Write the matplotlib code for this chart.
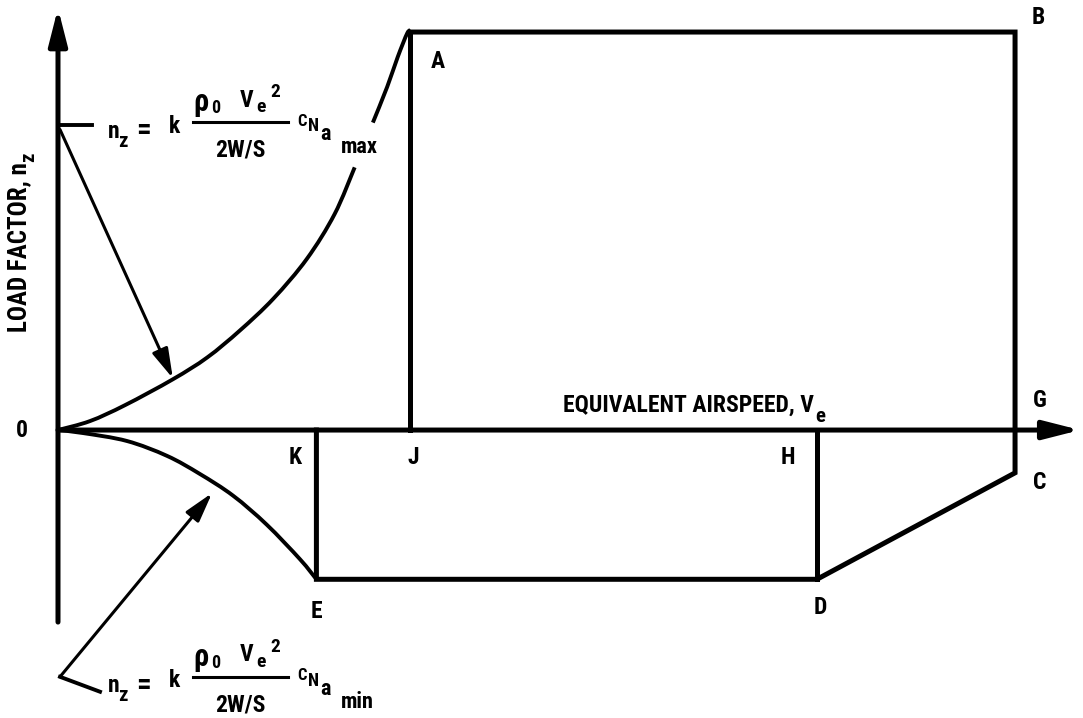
import numpy as np
import matplotlib.pyplot as plt
from matplotlib import font_manager
from matplotlib.path import Path
from matplotlib.patches import PathPatch

# bold narrow font, close to the lettering of the original drawing
prefs = ['RobotoCondensed-Bold', 'LiberationSansNarrow-Bold', 'OpenSans-CondBold',
         'NotoSans-CondensedBold', 'DejaVuSansCondensed-Bold', 'DejaVuSans-Bold']
found = {}
for f in font_manager.fontManager.ttflist:
    found[f.fname.split('/')[-1].rsplit('.', 1)[0]] = f.fname
FONT = next((found[p] for p in prefs if p in found), None)

# envelope corners (airspeed in arbitrary units, load factor n_z)
V_K, V_A, V_D, V_C = 27.0, 36.8, 79.3, 100.0
n_max, n_min, n_C = 4.0, -1.5, -0.43

# stall curves (upper one is broken by the formula text)
V_up1 = [0, 3.34, 7.0, 12.0, 15.6, 19.0, 22.5, 26.0, 28.9, 31.0]
n_up1 = [0, 0.09, 0.25, 0.51, 0.73, 1.0, 1.32, 1.72, 2.17, 2.64]
V_up2 = [32.9, 34.4, 35.5, 36.5, V_A]
n_up2 = [3.09, 3.45, 3.75, 3.99, n_max]
V_low = [0, 2.6, 7.2, 11.4, 14.8, 18.3, 21.8, 25.3, V_K]
n_low = [0, -0.03, -0.11, -0.26, -0.44, -0.66, -0.95, -1.30, n_min]

fig = plt.figure(figsize=(10.83, 7.18), dpi=100)
ax = fig.add_axes([0, 0, 1, 1])
ax.set_xlim(-6.06, 107.1)
ax.set_ylim(-2.894, 4.322)
ax.axis('off')

K = 'black'
LW = 3.6


def fp(size):
    return font_manager.FontProperties(fname=FONT, size=size)


def smooth(xs, ys, lw):
    # Catmull-Rom through the read points, drawn as cubic Bezier pieces
    p = np.column_stack([xs, ys])
    verts = [p[0]]
    codes = [Path.MOVETO]
    for i in range(len(p) - 1):
        p0 = p[max(i - 1, 0)]
        p3 = p[min(i + 2, len(p) - 1)]
        verts += [p[i] + (p[i + 1] - p0) / 6, p[i + 1] - (p3 - p[i]) / 6, p[i + 1]]
        codes += [Path.CURVE4] * 3
    ax.add_patch(PathPatch(Path(verts, codes), fill=False, lw=lw, color=K))


# axes with arrows
axis_arrow = dict(arrowstyle='-|>,head_length=1.1,head_width=0.28', lw=LW, color=K,
                  shrinkA=0, shrinkB=0, mutation_scale=20)
ax.annotate('', xy=(0, 4.24), xytext=(0, -1.93), arrowprops=axis_arrow)
ax.annotate('', xy=(106.8, 0), xytext=(0, 0), arrowprops=axis_arrow)

# envelope
ax.plot([V_A, V_C, V_C, V_D, V_K, V_K], [n_max, n_max, n_C, n_min, n_min, 0],
        color=K, lw=LW, solid_joinstyle='miter')
ax.plot([V_A, V_A], [n_max, 0], color=K, lw=LW)
ax.plot([V_D, V_D], [n_min, 0], color=K, lw=LW)

# stall curves
smooth(V_up1, n_up1, 2.8)
smooth(V_up2, n_up2, 2.8)
smooth(V_low, n_low, 2.8)

# point labels
FS = 17
labels = {'0': (-3.8, 0), 'A': (39.7, 3.70), 'B': (102.4, 4.15), 'G': (102.6, 0.30),
          'C': (102.6, -0.53), 'D': (79.7, -1.78), 'E': (27.0, -1.82),
          'K': (24.8, -0.28), 'J': (37.1, -0.28), 'H': (76.3, -0.28)}
for s, (x, y) in labels.items():
    ax.text(x, y, s, fontproperties=fp(FS), ha='center', va='center')

t = ax.text(52.8, 0.18, 'EQUIVALENT AIRSPEED, V', fontproperties=fp(FS), ha='left', va='baseline')
ax.annotate('e', xy=(1, 0), xycoords=t, xytext=(1, 1), textcoords='offset pixels',
            fontproperties=fp(FS - 2), ha='left', va='center')
t = ax.text(-4.08, 1.84, 'LOAD FACTOR, n', fontproperties=fp(FS + 1), rotation=90,
            ha='center', va='center')
ax.annotate('z', xy=(0.5, 1), xycoords=t, xytext=(10, 0), textcoords='offset pixels',
            fontproperties=fp(FS - 2), rotation=90, ha='center', va='bottom')

# leader lines and arrows to the curves
arrow = dict(arrowstyle='-|>,head_length=1.0,head_width=0.28', lw=2.2, color=K,
             shrinkA=0, shrinkB=0, mutation_scale=18)
ax.plot([0.21, 3.55], [3.07, 3.07], color=K, lw=2.8)
ax.annotate('', xy=(12.0, 0.52), xytext=(0.21, 3.02), arrowprops=arrow)
ax.plot([4.39, 0.21], [-2.63, -2.48], color=K, lw=2.8)
ax.annotate('', xy=(16.1, -0.633), xytext=(0.21, -2.48), arrowprops=arrow)


def formula(x0, y0, sub):
    # x0, y0: left edge of "n" at the height of the fraction bar (offsets in pixels)
    parts = [('n', 0, -9, 17), ('z', 10, -19, 15), ('=', 28, -9, 21), ('k', 61, -4, 17),
             ('ρ', 85, 20, 22), ('0', 103, 14, 13), ('V', 132, 22, 17), ('e', 148, 15, 14),
             ('2', 162, 30, 14), ('C', 189, 1, 12), ('N', 200, -4, 13), ('a', 212, -12, 16),
             (sub, 233, -25, 16)]
    for s, dx, dy, fs in parts:
        ax.annotate(s, xy=(x0, y0), xytext=(dx, dy), textcoords='offset pixels',
                    fontproperties=fp(fs), ha='left', va='center')
    ax.annotate('2W/S', xy=(x0, y0), xytext=(132, -28), textcoords='offset pixels',
                fontproperties=fp(17), ha='center', va='center')
    ax.plot([x0 + 85 / 9.57, x0 + 180 / 9.57], [y0, y0], color=K, lw=2.2)


formula(5.22, 3.095, 'max')
formula(5.22, -2.48, 'min')

fig.savefig('out.png', dpi=100)
